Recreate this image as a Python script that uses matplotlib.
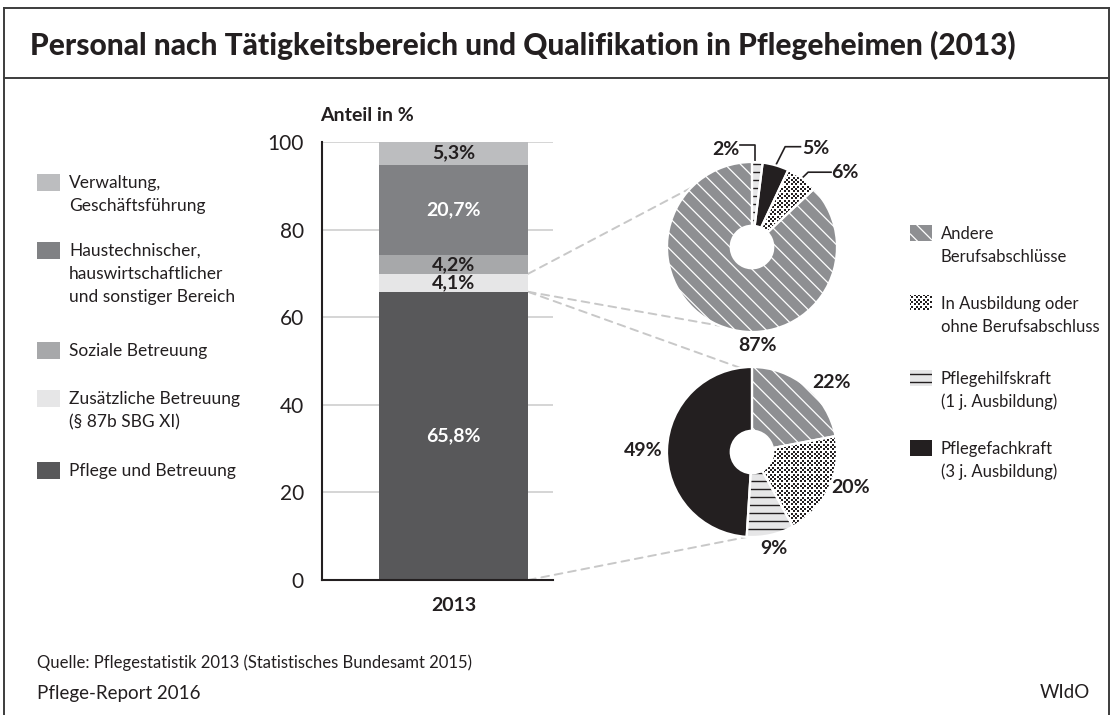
import matplotlib
matplotlib.use('Agg')
import matplotlib.pyplot as plt
from matplotlib.patches import Rectangle, ConnectionPatch
import numpy as np

plt.rcParams['font.family'] = ['Lato', 'DejaVu Sans']

W, H = 1114, 715
DARK = '#231f20'

# --- stacked bar: Tätigkeitsbereich ---
bar_year = '2013'
bar_cats = ['Pflege und Betreuung',
            'Zusätzliche Betreuung\n(§ 87b SBG XI)',
            'Soziale Betreuung',
            'Haustechnischer,\nhauswirtschaftlicher\nund sonstiger Bereich',
            'Verwaltung,\nGeschäftsführung']
bar_vals = [65.8, 4.1, 4.2, 20.7, 5.3]
bar_labels = ['65,8%', '4,1%', '4,2%', '20,7%', '5,3%']
bar_colors = ['#58585a', '#e6e6e7', '#a7a8aa', '#808184', '#bcbdbf']
bar_text_colors = ['white', DARK, DARK, 'white', DARK]
yticks = [0, 20, 40, 60, 80, 100]

# --- donuts: Qualifikation ---
qual_cats = ['Andere\nBerufsabschlüsse',
             'In Ausbildung oder\nohne Berufsabschluss',
             'Pflegehilfskraft\n(1 j. Ausbildung)',
             'Pflegefachkraft\n(3 j. Ausbildung)']
qual_face = ['#8e8f92', 'white', '#e6e6e7', DARK]
qual_pattern = ['diag', 'dots', 'horiz', None]
qual_pcol = ['white', DARK, DARK, None]

# top donut -> Zusätzliche Betreuung, bottom donut -> Pflege und Betreuung
top_order = [2, 3, 1, 0]
top_vals = [2, 5, 6, 87]
bot_order = [0, 1, 2, 3]
bot_vals = [22, 20, 9, 49]

fig = plt.figure(figsize=(W / 100, H / 100), dpi=100)

# overlay for frame, legends and free text (pixel coordinates)
ax0 = fig.add_axes([0, 0, 1, 1])
ax0.set_xlim(0, W)
ax0.set_ylim(H, 0)
ax0.axis('off')


def fill_pattern(ax, patch, kind, color, x0, x1, y0, y1, unit, flip=False):
    """Draw a texture inside patch; unit = data units per pixel."""
    if kind == 'diag':
        step = 11 * unit * np.sqrt(2)
        sgn = 1 if flip else -1
        span = (x1 - x0) + abs(y1 - y0)
        for c in np.arange(-span, span, step):
            xs = np.array([x0, x1])
            ln, = ax.plot(xs, y0 + c + sgn * (xs - x0), color=color, lw=0.9,
                          solid_capstyle='butt')
            ln.set_clip_path(patch)
    elif kind == 'horiz':
        step = 8 * unit
        lo, hi = min(y0, y1), max(y0, y1)
        for c in np.arange(lo + step / 2, hi, step):
            ln, = ax.plot([x0, x1], [c, c], color=color, lw=1.0)
            ln.set_clip_path(patch)
    elif kind == 'dots':
        d = 2.3 * unit
        xs = np.arange(min(x0, x1), max(x0, x1), d)
        ys = np.arange(min(y0, y1), max(y0, y1), d)
        gx, gy = np.meshgrid(xs, ys)
        ii, jj = np.meshgrid(np.arange(len(xs)), np.arange(len(ys)))
        m = (ii + jj) % 2 == 0
        sc = ax.scatter(gx[m], gy[m], s=1.9, marker='s', c=color, linewidths=0)
        sc.set_clip_path(patch)


fc = '#3c3c3c'
ax0.plot([4, 4], [8, H], color=fc, lw=1.4)
ax0.plot([1109, 1109], [8, H], color=fc, lw=1.4)
ax0.plot([4, 1109], [8, 8], color=fc, lw=1.4)
ax0.plot([4, 1109], [78, 78], color=fc, lw=1.4)
ax0.text(30, 45, 'Personal nach Tätigkeitsbereich und Qualifikation in Pflegeheimen (2013)',
         fontsize=21.5, fontweight='black', color=DARK, va='center', ha='left')

ax0.text(37, 663, 'Quelle: Pflegestatistik 2013 (Statistisches Bundesamt 2015)',
         fontsize=12, color=DARK, va='center')
ax0.text(37, 693, 'Pflege-Report 2016', fontsize=13.5, color=DARK, va='center')
ax0.text(1090, 693, 'WIdO', fontsize=13.5, color=DARK, va='center', ha='right')
ax0.text(320, 121, 'Anteil in %', fontsize=14, fontweight='bold', color=DARK, va='baseline')


def legend_entry(x_box, x_txt, base, lines, face, pattern=None, pcol=None,
                 bw=23, bh=17, fs=12.5):
    y_top = base - 6 - bh / 2
    r = Rectangle((x_box, y_top), bw, bh, facecolor=face, lw=0)
    ax0.add_patch(r)
    if pattern:
        fill_pattern(ax0, r, pattern, pcol, x_box, x_box + bw, y_top, y_top + bh, 1, flip=True)
    for i, ln in enumerate(lines.split('\n')):
        ax0.text(x_txt, base + i * 23, ln, fontsize=fs, color=DARK, va='baseline')


# left legend (top to bottom = top of stack first)
left_bases = [188, 256, 356, 404, 476]
for k, b in zip(range(len(bar_cats) - 1, -1, -1), left_bases):
    legend_entry(37, 69, b, bar_cats[k], bar_colors[k])

# right legend
right_bases = [239, 309, 384, 454]
for k, b in enumerate(right_bases):
    legend_entry(910, 941, b, qual_cats[k], qual_face[k], qual_pattern[k], qual_pcol[k],
                 bw=22, bh=16, fs=12)

# --- bar axes ---
bw = 0.65
x_left = -(453.5 - 322) / 149 * bw
x_right = (553 - 453.5) / 149 * bw
axb = fig.add_axes([322 / W, 1 - 580 / H, 231 / W, 438 / H])
axb.set_facecolor('none')
axb.set_xlim(x_left, x_right)
axb.set_ylim(0, 100)
axb.set_yticks(yticks)
axb.yaxis.grid(True, color='#d2d2d2', lw=1.3)
axb.set_axisbelow(True)
for s in ['top', 'right']:
    axb.spines[s].set_visible(False)
for s in ['left', 'bottom']:
    axb.spines[s].set_color(DARK)
    axb.spines[s].set_linewidth(1.5)
axb.tick_params(axis='y', length=0, pad=13, labelsize=15, labelcolor=DARK)
axb.tick_params(axis='x', length=0, pad=12)
axb.set_xticks([0])
axb.set_xticklabels([bar_year], fontsize=14, fontweight='bold', color=DARK)

bottoms = np.concatenate([[0], np.cumsum(bar_vals)[:-1]])
for v, b, c, lab, tc in zip(bar_vals, bottoms, bar_colors, bar_labels, bar_text_colors):
    axb.bar(0, v, bottom=b, width=bw, color=c, lw=0)
    axb.text(0, b + v / 2, lab, ha='center', va='center', fontsize=14,
             fontweight='bold', color=tc)


# --- donuts ---
def donut(cy, order, vals):
    ax = fig.add_axes([(752 - 85) / W, 1 - (cy + 85) / H, 170 / W, 170 / H])
    wedges, _ = ax.pie(vals, startangle=90, counterclock=False,
                       wedgeprops=dict(width=0.75, linewidth=0))
    for w, k in zip(wedges, order):
        w.set_facecolor(qual_face[k])
        w.set_linewidth(0)
        if qual_pattern[k]:
            fill_pattern(ax, w, qual_pattern[k], qual_pcol[k], -1.05, 1.05, -1.05, 1.05, 1 / 85)
    seps, _ = ax.pie(vals, startangle=90, counterclock=False,
                     wedgeprops=dict(width=0.75))
    for w in seps:
        w.set_facecolor('none')
        w.set_edgecolor('white')
        w.set_linewidth(1.6)
        w.set_zorder(5)
    ax.set_xlim(-1, 1)
    ax.set_ylim(-1, 1)
    return ax, wedges


axt, wt = donut(247, top_order, top_vals)
axd, wd = donut(452, bot_order, bot_vals)

lab_kw = dict(fontsize=14, fontweight='bold', color=DARK, va='center')
# top donut labels
top_lab_pos = [(-0.31, 1.15), (0.75, 1.16), (1.09, 0.88), (0.07, -1.16)]
top_elbow = [(0.04, 1.2), (0.39, 1.18), (0.66, 0.88), None]
top_end = [(-0.14, 1.2), (0.57, 1.18), (0.93, 0.88), None]
for w, v, p, e, t in zip(wt, top_vals, top_lab_pos, top_elbow, top_end):
    axt.text(p[0], p[1], f'{v}%', ha='center', clip_on=False, **lab_kw)
    if e is not None:
        a = np.deg2rad((w.theta1 + w.theta2) / 2)
        px, py = np.cos(a), np.sin(a)
        if t[0] < 0:
            px = e[0]
        axt.plot([px, e[0], t[0]], [py, e[1], t[1]], color=DARK, lw=1.2, clip_on=False)

bot_lab_pos = [(0.93, 0.82), (1.165, -0.42), (0.26, -1.14), (-1.28, 0.02)]
for v, p in zip(bot_vals, bot_lab_pos):
    axd.text(p[0], p[1], f'{v}%', ha='center', clip_on=False, **lab_kw)

# dashed connectors from bar segments to donuts
bar_x_edge = bw / 2
seg_top = bottoms + np.array(bar_vals)
conn = [(seg_top[1], axt, 136), (bottoms[1], axt, 248),
        (seg_top[0], axd, 98), (bottoms[0], axd, 267)]
for yv, ax, ang in conn:
    a = np.deg2rad(ang)
    cp = ConnectionPatch(xyA=(bar_x_edge, yv), coordsA=axb.transData,
                         xyB=(np.cos(a), np.sin(a)), coordsB=ax.transData,
                         color='#c8c8c8', lw=1.4, linestyle=(0, (4, 3)), zorder=0)
    ax0.add_artist(cp)

fig.savefig('out.png', dpi=100)
